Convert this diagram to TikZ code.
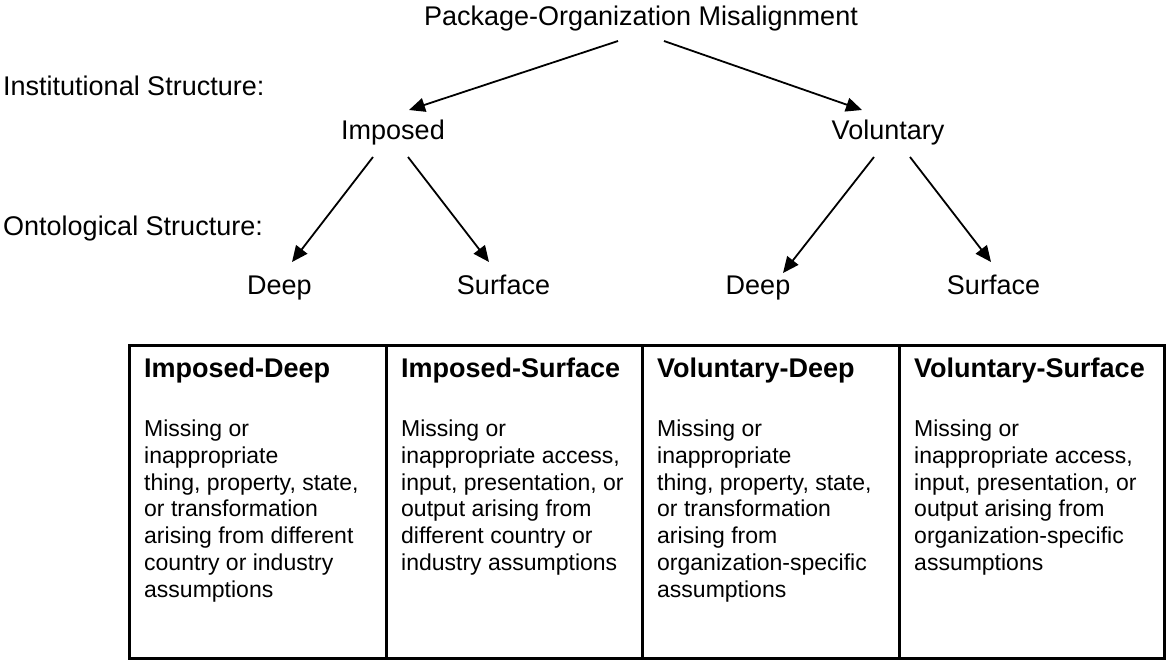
\documentclass[tikz,border=0pt]{standalone}
\usepackage{fontspec}
\setmainfont{Liberation Sans}
\usetikzlibrary{arrows.meta}
\begin{document}
\begin{tikzpicture}[x=1pt,y=-1pt,
  lbl/.style={font=\fontsize{27}{32}\selectfont, inner sep=0pt, anchor=base},
  side/.style={lbl, anchor=base west},
  head/.style={font=\bfseries\fontsize{27}{32}\selectfont, inner sep=0pt, anchor=base west},
  body/.style={font=\fontsize{23}{26.7}\selectfont, inner sep=0pt, anchor=north west, align=left},
  arr/.style={line width=1.8pt, -{Triangle[length=16pt,width=14pt]}},
  cellbox/.style={draw, line width=3pt, minimum height=313pt, anchor=north west, inner sep=0pt}]
\useasboundingbox (0,0) rectangle (1166,661);
% tree labels
\node[lbl] (title) at (641,26) {Package-Organization Misalignment};
\node[side] (inst) at (3,95) {Institutional Structure:};
\node[side] (onto) at (3,235) {Ontological Structure:};
\node[lbl] (imp) at (393,139) {Imposed};
\node[lbl] (vol) at (888,139) {Voluntary};
\node[lbl] (d1) at (279.5,294) {Deep};
\node[lbl] (s1) at (503.5,294) {Surface};
\node[lbl] (d2) at (758,294) {Deep};
\node[lbl] (s2) at (993.5,294) {Surface};
% arrows
\draw[arr] ([shift={(-23,15)}]title.base) -- ([shift={(16,-29)}]imp.base);
\draw[arr] ([shift={(23,15)}]title.base) -- ([shift={(-26,-29)}]vol.base);
\draw[arr] ([shift={(-20,18)}]imp.base) -- ([shift={(12.5,-32)}]d1.base);
\draw[arr] ([shift={(15,18)}]imp.base) -- ([shift={(-14.5,-32)}]s1.base);
\draw[arr] ([shift={(-14,18)}]vol.base) -- ([shift={(25,-21)}]d2.base);
\draw[arr] ([shift={(22,18)}]vol.base) -- ([shift={(-2.5,-32)}]s2.base);
% table
\node[cellbox, minimum width=257pt] (c1) at (128,344) {};
\node[cellbox, minimum width=256pt] (c2) at (385,344) {};
\node[cellbox, minimum width=257pt] (c3) at (641,344) {};
\node[cellbox, minimum width=265pt] (c4) at (898,344) {};
\node[head] (h1) at ([shift={(16,33)}]c1.north west) {Imposed-Deep};
\node[head] (h2) at ([shift={(16,33)}]c2.north west) {Imposed-Surface};
\node[head] (h3) at ([shift={(16,33)}]c3.north west) {Voluntary-Deep};
\node[head] (h4) at ([shift={(16,33)}]c4.north west) {Voluntary-Surface};
\node[body] (b1) at ([shift={(16,76)}]c1.north west) {Missing or\\inappropriate\\thing, property, state,\\or transformation\\arising from different\\country or industry\\assumptions};
\node[body] (b2) at ([shift={(16,76)}]c2.north west) {Missing or\\inappropriate access,\\input, presentation, or\\output arising from\\different country or\\industry assumptions};
\node[body] (b3) at ([shift={(16,76)}]c3.north west) {Missing or\\inappropriate\\thing, property, state,\\or transformation\\arising from\\organization-specific\\assumptions};
\node[body] (b4) at ([shift={(16,76)}]c4.north west) {Missing or\\inappropriate access,\\input, presentation, or\\output arising from\\organization-specific\\assumptions};
\end{tikzpicture}
\end{document}
